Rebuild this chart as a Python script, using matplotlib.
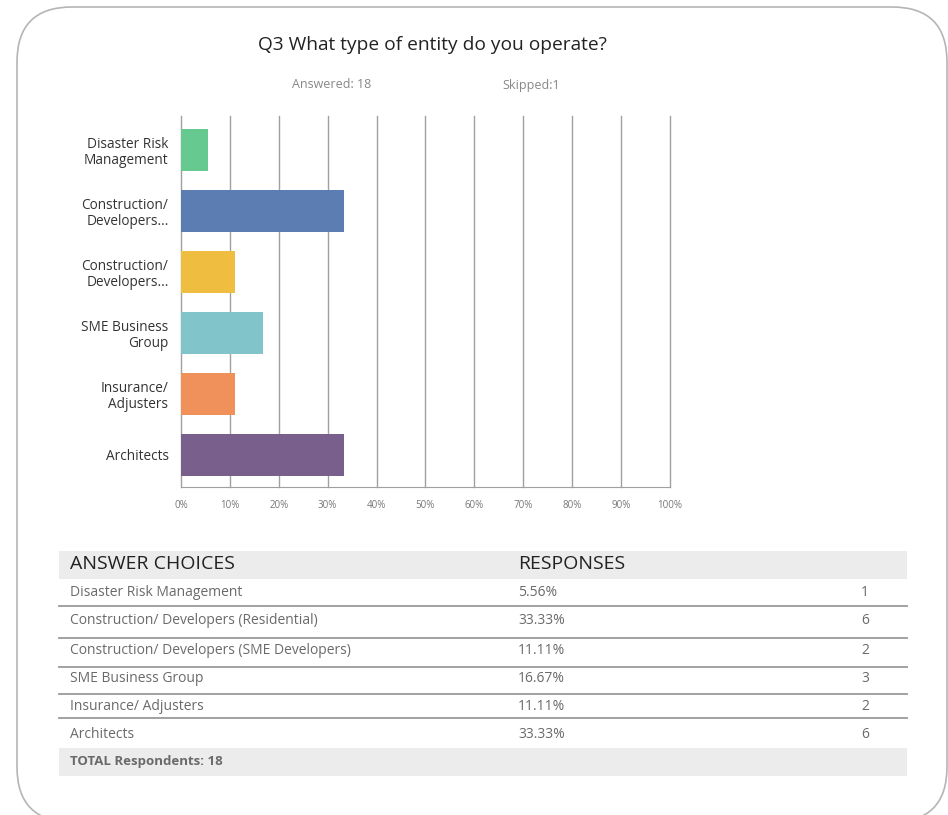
import numpy as np
from matplotlib import pyplot as plt
from matplotlib.patches import FancyBboxPatch, Rectangle
from matplotlib.transforms import IdentityTransform

plt.rcParams['font.family'] = ['Open Sans', 'DejaVu Sans']

# survey data
bar_labels = ['Disaster Risk\nManagement', 'Construction/\nDevelopers...', 'Construction/\nDevelopers...',
              'SME Business\nGroup', 'Insurance/\nAdjusters', 'Architects']
choices = ['Disaster Risk Management', 'Construction/ Developers (Residential)',
           'Construction/ Developers (SME Developers)', 'SME Business Group',
           'Insurance/ Adjusters', 'Architects']
pcts = [5.56, 33.33, 11.11, 16.67, 11.11, 33.33]
counts = [1, 6, 2, 3, 2, 6]
colors = ['#66c98f', '#5b7db1', '#efbe41', '#81c5cb', '#f0915c', '#795f8c']
answered = 18
skipped = 1

W, H = 948, 815
fig = plt.figure(figsize=(W / 100, H / 100), dpi=100)

# page overlay in pixel coordinates (y down)
page = fig.add_axes([0, 0, 1, 1])
page.set_xlim(0, W)
page.set_ylim(H, 0)
page.axis('off')

# rounded page border, drawn in display pixels (y up)
border = FancyBboxPatch((17, H - 822), 930, 815, boxstyle='round,pad=0,rounding_size=55',
                        fill=False, edgecolor='#b5b5b5', linewidth=1.2,
                        transform=IdentityTransform())
fig.patches.append(border)

page.text(432, 45, 'Q3 What type of entity do you operate?', ha='center', va='center',
          fontsize=13.8, color='#222222')
page.text(332, 85, f'Answered: {answered}', ha='center', va='center', fontsize=9, color='#888888')
page.text(531, 85, f'Skipped:{skipped}', ha='center', va='center', fontsize=9, color='#888888')

# table
tx0, tx1 = 59, 907
page.add_patch(Rectangle((tx0, 551), tx1 - tx0, 28, facecolor='#ececec', edgecolor='none'))
page.text(70, 564, 'ANSWER CHOICES', ha='left', va='center', fontsize=14, color='#222222')
page.text(518, 564, 'RESPONSES', ha='left', va='center', fontsize=14, color='#222222')

row_y = [593, 621, 650, 678, 706, 734]
line_y = [606, 638, 667, 694, 718]
for i, (name, p, c) in enumerate(zip(choices, pcts, counts)):
    page.text(70, row_y[i], name, ha='left', va='center', fontsize=10, color='#6a6a6a')
    page.text(518, row_y[i], f'{p:.2f}%', ha='left', va='center', fontsize=10, color='#6a6a6a')
    page.text(865, row_y[i], str(c), ha='center', va='center', fontsize=10, color='#6a6a6a')
for ly in line_y:
    page.plot([tx0, tx1], [ly, ly], color='#9a9a9a', linewidth=1.3)

page.add_patch(Rectangle((tx0, 748), tx1 - tx0, 28, facecolor='#ececec', edgecolor='none'))
page.text(70, 762, f'TOTAL Respondents: {answered}', ha='left', va='center', fontsize=9.5,
          fontweight='bold', color='#6a6a6a')

# bar chart
ax = fig.add_axes([181 / W, 1 - 487 / H, (670 - 181) / W, (487 - 116) / H])
ax.patch.set_alpha(0)
y = np.arange(len(pcts))
ax.barh(y, pcts, height=0.7, color=colors, zorder=3)
ax.set_xlim(0, 100)
ax.set_ylim(len(pcts) - 1 + 0.525, -0.557)
ax.set_xticks(np.arange(0, 101, 10))
ax.set_xticklabels([f'{v}%' for v in range(0, 101, 10)], fontsize=7, color='#777777')
ax.set_yticks(y)
ax.set_yticklabels(bar_labels, fontsize=9.8, color='#333333', linespacing=1.1)
ax.tick_params(axis='both', length=0)
ax.tick_params(axis='x', pad=9)
ax.tick_params(axis='y', pad=9)
ax.grid(axis='x', color='#a0a0a0', linewidth=1, zorder=0)
for line in ax.get_xgridlines():
    line.set_clip_on(False)
for side in ['top', 'left', 'right']:
    ax.spines[side].set_visible(False)
ax.spines['bottom'].set_color('#a0a0a0')

fig.savefig('out.png', dpi=100)
